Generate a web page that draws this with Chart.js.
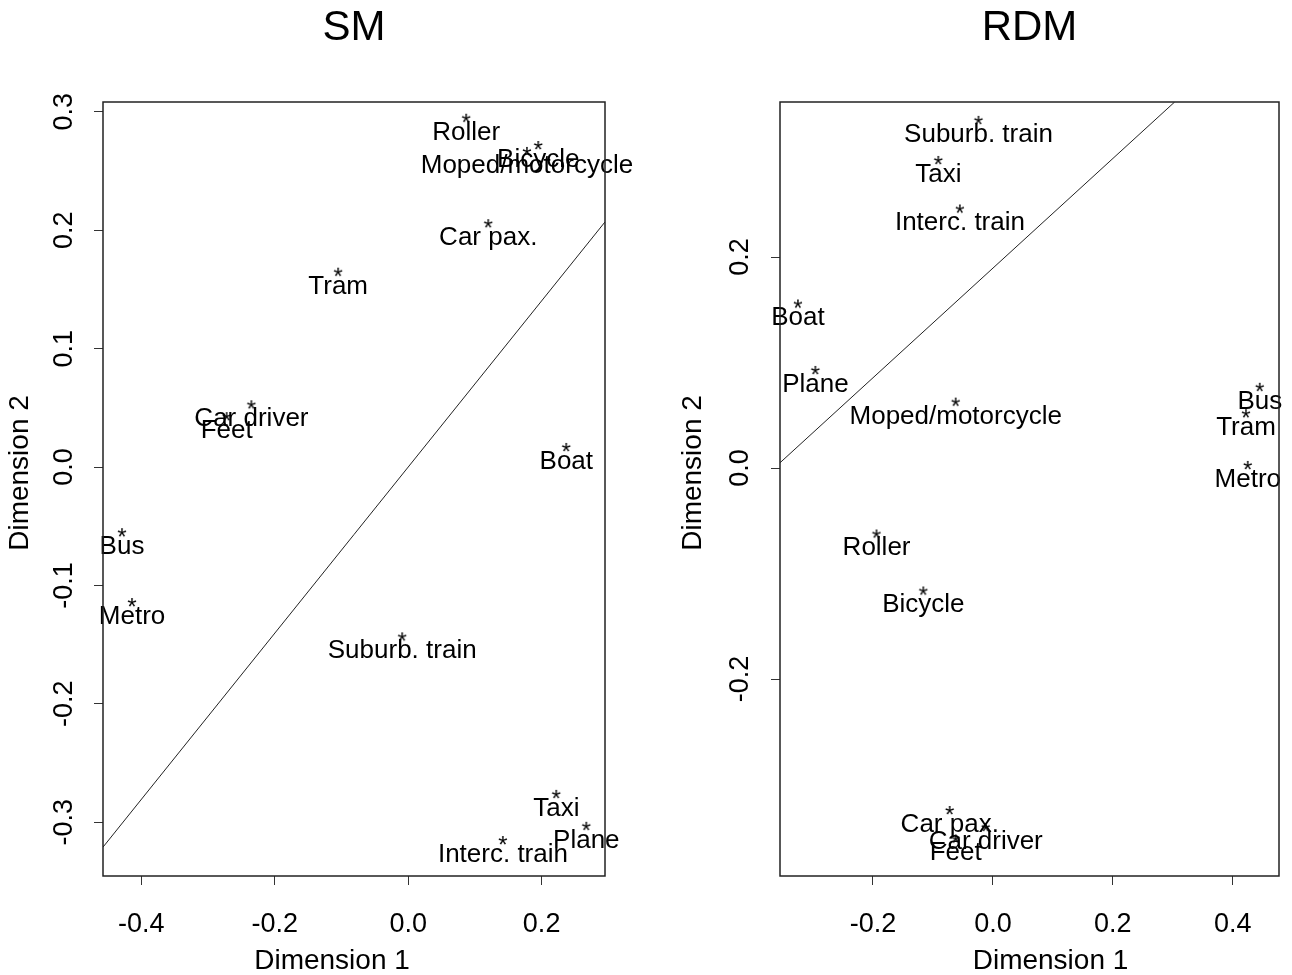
<!DOCTYPE html>
<html>
<head>
<meta charset="utf-8">
<title>SM / RDM</title>
<script src="https://cdn.jsdelivr.net/npm/chart.js@4.4.1/dist/chart.umd.min.js"></script>
<style>
  html, body { margin: 0; padding: 0; background: #fff; overflow: hidden; }
  canvas { position: absolute; top: 0; }
  #smChart { left: 0; }
  #rdmChart { left: 646px; }
</style>
</head>
<body>
<canvas id="smChart" width="646" height="980"></canvas>
<canvas id="rdmChart" width="646" height="980"></canvas>
<script>
// --- SM panel ---
const smNames = ['Roller', 'Bicycle', 'Moped/motorcycle', 'Car pax.', 'Tram', 'Car driver', 'Feet',
    'Boat', 'Bus', 'Metro', 'Suburb. train', 'Taxi', 'Plane', 'Interc. train'];
const smDim1 = [0.087, 0.195, 0.178, 0.120, -0.105, -0.235, -0.272, 0.237, -0.429, -0.414, -0.009, 0.222, 0.267, 0.142];
const smDim2 = [0.295, 0.272, 0.267, 0.206, 0.165, 0.053, 0.043, 0.017, -0.055, -0.114, -0.143, -0.276, -0.303, -0.315];
const smLineX = [-0.4575, 0.295];
const smLineY = [-0.321, 0.207];
const smXRange = [-0.4575, 0.295];
const smYRange = [-0.3454, 0.3083];
const smXStep = 0.2;
const smYStep = 0.1;

// --- RDM panel ---
const rdmNames = ['Suburb. train', 'Taxi', 'Interc. train', 'Boat', 'Plane', 'Moped/motorcycle', 'Bus',
    'Tram', 'Metro', 'Roller', 'Bicycle', 'Car pax.', 'Car driver', 'Feet'];
const rdmDim1 = [-0.024, -0.091, -0.055, -0.325, -0.296, -0.062, 0.445, 0.422, 0.425, -0.194, -0.116, -0.072, -0.012, -0.062];
const rdmDim2 = [0.330, 0.292, 0.246, 0.156, 0.093, 0.063, 0.077, 0.052, 0.003, -0.062, -0.116, -0.324, -0.340, -0.351];
const rdmLineX = [-0.355, 0.303];
const rdmLineY = [0.005, 0.3469];
const rdmXRange = [-0.355, 0.477];
const rdmYRange = [-0.3866, 0.3469];
const rdmXStep = 0.2;
const rdmYStep = 0.2;

const FONT = '"Liberation Sans", Arial, sans-serif';
Chart.defaults.font.family = FONT;
Chart.defaults.color = '#000';

// asterisk marker, like pch = "*"
function makeStar() {
    const c = document.createElement('canvas');
    c.width = 22;
    c.height = 22;
    const g = c.getContext('2d');
    g.fillStyle = '#000';
    g.font = '24px ' + FONT;
    g.textAlign = 'center';
    g.textBaseline = 'alphabetic';
    g.fillText('*', 11, 24);
    return c;
}
const star = makeStar();

// labels under each point, drawn from the point elements
const pointLabels = {
    id: 'pointLabels',
    afterDatasetsDraw(chart, args, opts) {
        const meta = chart.getDatasetMeta(1);
        const ctx = chart.ctx;
        ctx.save();
        ctx.fillStyle = '#000';
        ctx.font = '26px ' + FONT;
        ctx.textAlign = 'center';
        ctx.textBaseline = 'alphabetic';
        meta.data.forEach((pt, i) => {
            ctx.fillText(opts.names[i], pt.x, pt.y + 22);
        });
        ctx.restore();
    }
};

// R style box plus main / axis titles
const plotFrame = {
    id: 'plotFrame',
    afterDraw(chart, args, opts) {
        const a = chart.chartArea;
        const ctx = chart.ctx;
        const cx = (a.left + a.right) / 2;
        const cy = (a.top + a.bottom) / 2;
        ctx.save();
        ctx.strokeStyle = '#222';
        ctx.lineWidth = 1.5;
        ctx.strokeRect(a.left, a.top, a.right - a.left, a.bottom - a.top);

        ctx.fillStyle = '#000';
        ctx.textAlign = 'center';
        ctx.textBaseline = 'middle';
        ctx.font = '42px ' + FONT;
        ctx.fillText(opts.main, cx, 28);

        ctx.font = '28px ' + FONT;
        ctx.fillText('Dimension 1', cx + opts.xShift, 961);

        ctx.translate(opts.yX, cy + opts.yShift);
        ctx.rotate(-Math.PI / 2);
        ctx.fillText('Dimension 2', 0, 0);
        ctx.restore();
    }
};

function fmt(v) {
    return Math.abs(v) < 1e-9 ? '0.0' : v.toFixed(1);
}

function makeChart(id, cfg) {
    const pts = cfg.dim1.map((x, i) => ({ x: x, y: cfg.dim2[i] }));
    const line = cfg.lineX.map((x, i) => ({ x: x, y: cfg.lineY[i] }));

    return new Chart(document.getElementById(id), {
        type: 'scatter',
        data: {
            datasets: [
                {
                    type: 'line',
                    data: line,
                    borderColor: '#222',
                    borderWidth: 1,
                    pointRadius: 0,
                    fill: false
                },
                {
                    data: pts,
                    pointStyle: star,
                    pointRadius: 6
                }
            ]
        },
        options: {
            responsive: false,
            animation: false,
            events: [],
            layout: { padding: { left: 0, right: cfg.padRight, top: 102, bottom: 0 } },
            plugins: {
                legend: { display: false },
                tooltip: { enabled: false },
                title: { display: false },
                pointLabels: { names: cfg.names },
                plotFrame: { main: cfg.title, xShift: cfg.xShift, yX: cfg.yX, yShift: -16 }
            },
            scales: {
                x: {
                    type: 'linear',
                    min: cfg.xRange[0],
                    max: cfg.xRange[1],
                    afterFit: s => { s.height = 104; },
                    border: { display: false },
                    grid: { drawOnChartArea: false, drawTicks: true, tickLength: 9, tickColor: '#333' },
                    ticks: {
                        stepSize: cfg.xStep,
                        includeBounds: false,
                        autoSkip: false,
                        maxRotation: 0,
                        padding: 23,
                        font: { size: 27 },
                        color: '#000',
                        callback: fmt
                    }
                },
                y: {
                    type: 'linear',
                    min: cfg.yRange[0],
                    max: cfg.yRange[1],
                    afterFit: s => { s.width = cfg.yWidth; },
                    border: { display: false },
                    grid: { drawOnChartArea: false, drawTicks: true, tickLength: 9, tickColor: '#333' },
                    ticks: {
                        stepSize: cfg.yStep,
                        includeBounds: false,
                        autoSkip: false,
                        minRotation: 90,
                        maxRotation: 90,
                        crossAlign: 'center',
                        padding: cfg.yTickPad,
                        font: { size: 27 },
                        color: '#000',
                        callback: fmt
                    }
                }
            }
        },
        plugins: [pointLabels, plotFrame]
    });
}

makeChart('smChart', {
    title: 'SM',
    names: smNames, dim1: smDim1, dim2: smDim2,
    lineX: smLineX, lineY: smLineY,
    xRange: smXRange, yRange: smYRange,
    xStep: smXStep, yStep: smYStep,
    padRight: 41, yWidth: 103, yTickPad: 6,
    xShift: -22, yX: 20.5
});

makeChart('rdmChart', {
    title: 'RDM',
    names: rdmNames, dim1: rdmDim1, dim2: rdmDim2,
    lineX: rdmLineX, lineY: rdmLineY,
    xRange: rdmXRange, yRange: rdmYRange,
    xStep: rdmXStep, yStep: rdmYStep,
    padRight: 13, yWidth: 134, yTickPad: 7,
    xShift: 21, yX: 47.5
});
</script>
</body>
</html>
